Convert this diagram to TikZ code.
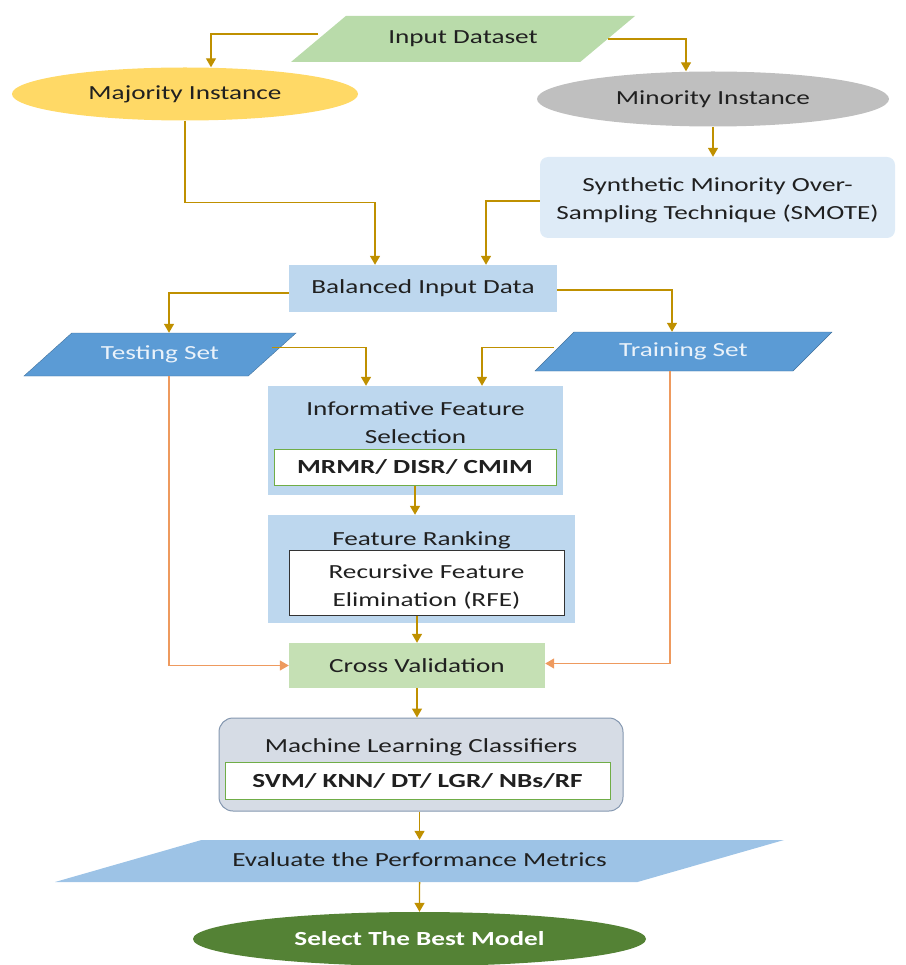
\documentclass[tikz,border=0pt]{standalone}
\usepackage{fontspec}
\setmainfont[FakeStretch=1.36]{Carlito}
\usetikzlibrary{shapes.geometric,arrows.meta}

\definecolor{flowgold}{HTML}{BF9000}
\definecolor{sideorange}{HTML}{EE9A5E}
\definecolor{txtdark}{HTML}{202020}
\definecolor{ingreen}{HTML}{B9DBAA}
\definecolor{majyellow}{HTML}{FFD966}
\definecolor{mingray}{HTML}{BFBFBF}
\definecolor{smoteblue}{HTML}{DEEBF7}
\definecolor{balblue}{HTML}{BDD7EE}
\definecolor{setblue}{HTML}{5B9BD5}
\definecolor{setedge}{HTML}{41719C}
\definecolor{setwhite}{HTML}{EAF2FA}
\definecolor{inedge}{HTML}{70AD47}
\definecolor{cvgreen}{HTML}{C5E0B4}
\definecolor{mlgray}{HTML}{D6DCE5}
\definecolor{mledge}{HTML}{8497B0}
\definecolor{evalblue}{HTML}{9DC3E6}
\definecolor{bestgreen}{HTML}{548235}

\tikzset{
	base/.style={font=\fontsize{20}{28}\selectfont, text=txtdark, align=center, inner sep=0pt},
	box/.style={base, rectangle},
	inbox/.style={base, rectangle, fill=white, line width=1pt},
	oval/.style={base, ellipse},
	para/.style={base, trapezium, trapezium stretches body, text height=15pt, text depth=5pt},
	flow/.style={draw=flowgold, line width=1.4pt, -{Triangle[width=10pt,length=9pt]}},
	side/.style={flow, draw=sideorange}
}

\begin{document}
\begin{tikzpicture}[x=1pt, y=-1pt]
	%%%%% START %%%%%
	\useasboundingbox (0, 0) rectangle (905, 965);
	
	\node[para, fill=ingreen, minimum width=344pt, inner ysep=13pt, trapezium left angle=40, trapezium right angle=140] (in) at (463, 39) {Input Dataset};
	\node[oval, fill=majyellow, minimum width=346pt, minimum height=53pt] (maj) at (185, 94) {Majority Instance};
	\node[oval, fill=mingray, minimum width=352pt, minimum height=55pt] (min) at (713, 99) {Minority Instance};
	\node[box, fill=smoteblue, rounded corners=8pt, minimum width=355pt, minimum height=81pt, text height=48pt] (smote) at (717.5, 197.5) {Synthetic Minority Over-\\Sampling Technique (SMOTE)};
	
	\node[box, fill=balblue, minimum width=268pt, minimum height=47pt] (bal) at (423, 288.5) {Balanced Input Data};
	\node[para, fill=setblue, draw=setedge, text=setwhite, minimum width=272pt, inner ysep=11.5pt, trapezium left angle=42, trapezium right angle=138] (test) at (160, 354.5) {Testing Set};
	\node[para, fill=setblue, draw=setedge, text=setwhite, minimum width=297pt, inner ysep=9.5pt, trapezium left angle=45, trapezium right angle=135] (train) at (683.5, 351.5) {Training Set};
	
	% feature selection and ranking
	\node[box, fill=balblue, minimum width=295pt, minimum height=109pt] (ifs) at (415.5, 440.5) {};
	\node[base] (ifst) at (415.5, 423) {Informative Feature\\Selection};
	\node[inbox, draw=inedge, minimum width=282pt, minimum height=36pt] (ifsm) at (415, 467) {\bfseries MRMR/ DISR/ CMIM};
	\node[box, fill=balblue, minimum width=307pt, minimum height=108pt] (fr) at (421.5, 569) {};
	\node[base] (frt) at (421.5, 540) {Feature Ranking};
	\node[inbox, draw=black!80, minimum width=275pt, minimum height=65pt, text height=50pt] (frr) at (426.5, 582.5) {Recursive Feature\\Elimination (RFE)};
	
	\node[box, fill=cvgreen, minimum width=256pt, minimum height=45pt] (cv) at (417, 665.5) {Cross Validation};
	\node[box, fill=mlgray, draw=mledge, line width=1pt, rounded corners=14pt, minimum width=404pt, minimum height=93pt] (ml) at (421, 764.5) {};
	\node[base] (mlt) at (421, 747) {Machine Learning Classifiers};
	\node[inbox, draw=inedge, minimum width=385pt, minimum height=37pt] (mlc) at (417.5, 780.5) {\bfseries SVM/ KNN/ DT/ LGR/ NBs/RF};
	\node[para, fill=evalblue, minimum width=729pt, inner ysep=11pt, trapezium left angle=16, trapezium right angle=164] (eval) at (419.5, 861) {Evaluate the Performance Metrics};
	\node[oval, fill=bestgreen, text=white, minimum width=453pt, minimum height=54pt] (best) at (419.5, 939) {\bfseries Select The Best Model};
	
	% connectors
	\draw[flow] ([yshift=5pt]in.left side) -| ([xshift=26pt]maj.north);
	\draw[flow] (in.right side) -| ([xshift=-27pt]min.north);
	\draw[flow] (min.south) -- (min.south |- smote.north);
	\draw[flow] (maj.south) -- ++(0, 82) -| ([xshift=-48pt]bal.north);
	\draw[flow] ([yshift=-3.5pt]smote.west) -| ([xshift=63pt]bal.north);
	\draw[flow] ([yshift=-4.5pt]bal.west) -| ([xshift=9pt]test.north);
	\draw[flow] ([yshift=-1.5pt]bal.east) -| ([xshift=-11.5pt]train.north);
	\draw[flow] ([yshift=7pt]test.right side) -| ([xshift=-49.5pt]ifs.north);
	\draw[flow] ([yshift=4pt]train.left side) -| ([xshift=66.5pt]ifs.north);
	\draw[flow] (ifsm.south) -- (ifsm.south |- fr.north);
	\draw[flow] (frr.south -| cv.north) -- (cv.north);
	\draw[side] ([xshift=9pt]test.south) |- (cv.west);
	\draw[side] ([xshift=-13.5pt]train.south) |- ([yshift=2pt]cv.east);
	\draw[flow] (cv.south) -- (cv.south |- ml.north);
	\draw[flow] (ml.south -| eval.north) -- (eval.north);
	\draw[flow] (eval.south) -- (best.north);
	%%%%% END %%%%%
\end{tikzpicture}
\end{document}
